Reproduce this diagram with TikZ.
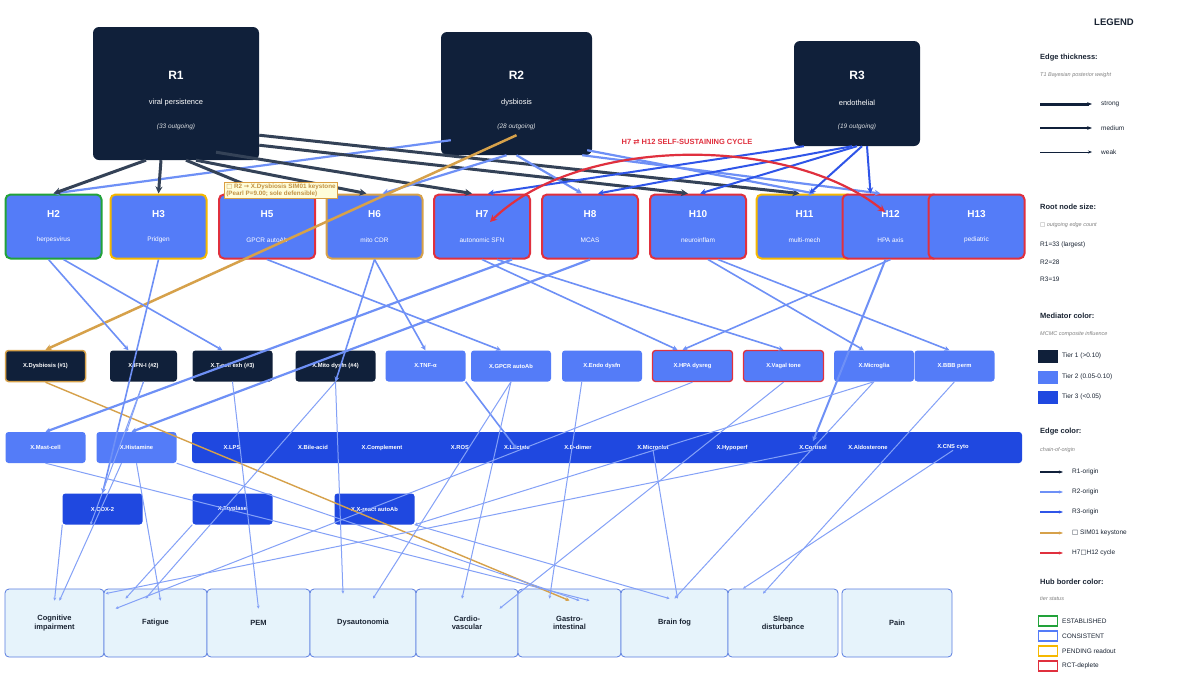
\documentclass[tikz,border=0pt]{standalone}
\usepackage{fontspec}
\setmainfont{Liberation Sans}
\newfontfamily\djv{DejaVu Sans}
\usetikzlibrary{arrows.meta}
\definecolor{navy}{HTML}{10203A}
\definecolor{hubb}{HTML}{547CF8}
\definecolor{tthree}{HTML}{1F48E0}
\definecolor{rtwo}{HTML}{6E90F6}
\definecolor{rthree}{HTML}{2F55E8}
\definecolor{gold}{HTML}{D6A14A}
\definecolor{cred}{HTML}{E0303E}
\definecolor{cgreen}{HTML}{22A23A}
\definecolor{cyel}{HTML}{F5B800}
\definecolor{symf}{HTML}{E6F3FB}
\definecolor{symb}{HTML}{5A7DE0}
\definecolor{txt}{HTML}{1A2433}
\begin{document}
\begin{tikzpicture}[x=1pt,y=-1pt,
 root/.style={fill=navy,rounded corners=6pt,text=white,align=center,inner sep=0pt},
 hub/.style={fill=hubb,rounded corners=5pt,line width=2pt,minimum width=96pt,minimum height=64pt,text=white,align=center,inner sep=0pt},
 med/.style={rounded corners=3pt,minimum width=80pt,minimum height=31pt,text=white,font=\bfseries\fontsize{5.8}{6}\selectfont,inner sep=0pt},
 tx/.style={text=white,font=\bfseries\fontsize{5.8}{6}\selectfont,inner sep=0pt},
 sym/.style={fill=symf,draw=symb,line width=0.8pt,rounded corners=4pt,minimum height=68pt,text=txt,align=center,font=\bfseries\fontsize{7.5}{8.5}\selectfont,inner sep=0pt},
 eR1/.style={navy!85,line width=3pt,-{Stealth[length=7pt,width=7pt]}},
 eR2/.style={rtwo,line width=2.2pt,-{Stealth[length=6pt,width=6pt]}},
 eR3/.style={rthree,line width=2pt,-{Stealth[length=6pt,width=6pt]}},
 hm/.style={rtwo,line width=1.6pt,-{Stealth[length=5pt,width=5pt]}},
 thin/.style={rtwo!85,line width=1pt,-{Stealth[length=3pt,width=3pt]}},
 lt/.style={text=txt,font=\fontsize{6.5}{7.5}\selectfont,anchor=west,inner sep=0pt},
 lh/.style={text=txt,font=\bfseries\fontsize{7.5}{8.5}\selectfont,anchor=west,inner sep=0pt},
 ls/.style={text=gray,font=\itshape\fontsize{5.5}{6.5}\selectfont,anchor=west,inner sep=0pt},
]
\useasboundingbox[fill=white] (0,0) rectangle (1200,675);
% roots
\node[root,minimum width=166pt,minimum height=133pt] (r1) at (176,93.5) {};
\node[root,minimum width=151pt,minimum height=123pt] (r2) at (516.5,93.5) {};
\node[root,minimum width=126pt,minimum height=105pt] (r3) at (857,93.5) {};
\foreach \n/\x/\a/\b in {r1/176/R1/viral persistence,r2/516.5/R2/dysbiosis,r3/857/R3/endothelial}{
 \node[text=white,font=\bfseries\fontsize{12}{14}\selectfont] (\n t) at (\x,75) {\a};
 \node[text=white,font=\fontsize{7.5}{8.5}\selectfont] (\n s) at (\x,103) {\b};}
\node[text=white!85!navy,font=\itshape\fontsize{6.5}{7}\selectfont] (r1c) at (176,127) {(33 outgoing)};
\node[text=white!85!navy,font=\itshape\fontsize{6.5}{7}\selectfont] (r2c) at (516.5,127) {(28 outgoing)};
\node[text=white!85!navy,font=\itshape\fontsize{6.5}{7}\selectfont] (r3c) at (857,127) {(19 outgoing)};
% hubs
\foreach \n/\x/\c/\s in {h2/53.5/cgreen/herpesvirus,h3/158.5/cyel/Pridgen,h5/267/cred/GPCR autoAb,h6/374.5/gold/mito CDR,h7/482/cred/autonomic SFN,h8/590/cred/MCAS,h10/698/cred/neuroinflam,h11/804.5/cyel/multi-mech,h12/890.5/cred/HPA axis,h13/976.5/cred/pediatric}{
 \node[hub,draw=\c] (\n) at (\x,226.5) {};
 \node[text=white,font=\fontsize{6.5}{7}\selectfont] (\n s) at (\x,240) {\s};}
\foreach \n/\x/\l in {h2/53.5/H2,h3/158.5/H3,h5/267/H5,h6/374.5/H6,h7/482/H7,h8/590/H8,h10/698/H10,h11/804.5/H11,h12/890.5/H12,h13/976.5/H13}
 \node[text=white,font=\bfseries\fontsize{10}{12}\selectfont] (\n t) at (\x,214) {\l};
% mediators row 1
\node[med,fill=navy,draw=gold,line width=1.5pt] (m1) at (45.5,366) {X.Dysbiosis (\#1)};
\node[med,fill=navy,minimum width=67pt] (m2) at (143.5,366) {X.IFN-I (\#2)};
\node[med,fill=navy] (m3) at (232.5,366) {X.T-cell exh (\#3)};
\node[med,fill=navy] (m4) at (335.5,366) {X.Mito dysfn (\#4)};
\node[med,fill=hubb] (m5) at (425.5,366) {X.TNF-α};
\node[med,fill=hubb] (m6) at (511,366) {X.GPCR autoAb};
\node[med,fill=hubb] (m7) at (602,366) {X.Endo dysfn};
\node[med,fill=hubb,draw=cred,line width=1.3pt] (m8) at (692.5,366) {X.HPA dysreg};
\node[med,fill=hubb,draw=cred,line width=1.3pt] (m9) at (783.5,366) {X.Vagal tone};
\node[med,fill=hubb] (m10) at (874,366) {X.Microglia};
\node[med,fill=hubb] (m11) at (954.5,366) {X.BBB perm};
% row 2
\node[med,fill=hubb] (n1) at (45.5,447.5) {X.Mast-cell};
\node[med,fill=hubb] (n2) at (136.5,447.5) {X.Histamine};
\node[fill=tthree,rounded corners=3pt,minimum width=830pt,minimum height=31pt,inner sep=0pt] (bar) at (607,447.5) {};
\foreach \n/\x/\t in {n3/232/X.LPS,n4/313/X.Bile-acid,n5/382/X.Complement,n6/460/X.ROS,n7/517/X.Lactate,n8/578/X.D-dimer,n9/653/X.Microclot,n10/732/X.Hypoperf,n11/813/X.Cortisol,n12/868/X.Aldosterone,n13/953/X.CNS cyto}
 \node[tx] (\n) at (\x,447.5) {\t};
% row 3
\node[med,fill=tthree] (k1) at (102.5,509) {X.COX-2};
\node[med,fill=tthree] (k2) at (232.5,509) {X.Tryplase};
\node[med,fill=tthree] (k3) at (374.5,509) {X.X-react autoAb};
% symptoms
\foreach \n/\a/\b/\t in {s1/5/104/Cognitive\\impairment,s2/104/207/Fatigue,s3/207/310/PEM,s4/310/416/Dysautonomia,s5/416/518/Cardio-\\vascular,s6/518/621/Gastro-\\intestinal,s7/621/728/Brain fog,s8/728/838/Sleep\\disturbance,s9/842/952/Pain}
 \node[sym,minimum width=\b pt-\a pt] (\n) at ({(\a+\b)/2},623) {\t};
% root edges
\draw[eR2] (r2.south west) ++(10,-15) -- (h2.north) ;
\draw[eR1] (r1.south) ++(-30,0) -- (h2.north);
\draw[eR1] (r1.south) ++(-15,0) -- (h3.north);
\draw[eR1] (r1.south) ++(20,0) -- ([xshift=-8pt]h6.north);
\draw[eR1] (r1.south) ++(40,-8) -- ([xshift=-10pt]h7.north);
\draw[eR1] (r1.south east) ++(0,-15) -- ([xshift=-10pt]h10.north);
\draw[eR1] (r1.south east) ++(0,-25) -- ([xshift=-5pt]h11.north);
\draw[eR1] (r1.south) ++(10,0) -- (h5.north);
\draw[eR2] (r2.south) ++(-10,0) -- ([xshift=8pt]h6.north);
\draw[eR2] (r2.south) -- ([xshift=-8pt]h8.north);
\draw[eR2] (r2.south east) ++(-10,0) -- ([xshift=-10pt]h12.north);
\draw[eR2] (r2.south east) ++(-5,-5) -- ([xshift=10pt]h11.north);
\draw[eR3] (r3.south west) ++(10,0) -- ([xshift=6pt]h7.north);
\draw[eR3] (r3.south) ++(-5,0) -- ([xshift=8pt]h8.north);
\draw[eR3] (r3.south) -- ([xshift=2pt]h10.north);
\draw[eR3] (r3.south) ++(5,0) -- ([xshift=5pt]h11.north);
\draw[eR3] (r3.south) ++(10,0) -- ([xshift=-20pt]h12.north);
% gold keystone
\draw[gold,line width=2.5pt,-{Stealth[length=6pt,width=6pt]}] (r2.south) ++(0,-20) -- (m1.north);
\draw[gold,line width=1.4pt,-{Stealth[length=4pt,width=4pt]}] (m1.south) -- ([yshift=-12pt]s6.north);
\node[fill=yellow!15,draw=gold!90!orange,line width=0.8pt,text=gold!90!black,align=left,font=\bfseries\fontsize{6.3}{6.8}\selectfont,inner sep=1.5pt] (kn) at (281,190.5) {{\djv□} R2 {\djv→} X.Dysbiosis SIM01 keystone\\(Pearl P=9.00; sole defensible)};
% red cycle
\coordinate (c7) at (490,222);
\coordinate (c12) at (885,212);
\draw[cred,line width=2.2pt,{Stealth[length=7pt,width=7pt]}-{Stealth[length=7pt,width=7pt]}] (c7) .. controls (580,135) and (790,135) .. (c12);
\node[text=cred,font=\bfseries\fontsize{7.5}{8.5}\selectfont] (cyc) at (687,142) {H7 {\djv⇄} H12 SELF-SUSTAINING CYCLE};
% hub->mediator
\draw[hm] ([xshift=-5pt]h2.south) -- ([xshift=-15pt]m2.north);
\draw[hm] ([xshift=10pt]h2.south) -- ([xshift=-10pt]m3.north);
\draw[hm] (h3.south) -- (k1.north);
\draw[hm] (h5.south) -- ([xshift=-10pt]m6.north);
\draw[hm] (h6.south) -- (m4.south);
\draw[hm] (h6.south) -- (m5.north);
\draw[hm] (h7.south) -- ([xshift=-15pt]m8.north);
\draw[hm] ([xshift=15pt]h7.south) -- (m9.north);
\draw[hm,line width=2.2pt] ([xshift=30pt]h7.south) -- (n1.north);
\draw[hm,line width=2.2pt] (h8.south) -- ([xshift=-5pt]n2.north);
\draw[hm] ([xshift=10pt]h10.south) -- ([xshift=-10pt]m10.north);
\draw[hm] ([xshift=20pt]h10.south) -- ([xshift=-5pt]m11.north);
\draw[hm] (h12.south) -- ([xshift=-10pt]m8.north);
\draw[hm,line width=2pt] ([xshift=-5pt]h12.south) -- ([yshift=4pt]n11.north);
\draw[hm] (m5.south east) -- ([yshift=-4pt]n7.north);
% mediator -> symptom/lower
\draw[thin] (m2.south) -- ([xshift=-10pt]n2.north);
\draw[thin] (m2.south) -- ([xshift=-12pt]k1.south);
\draw[thin] (m3.south) -- ([yshift=-20pt]s3.north);
\draw[thin] (m4.south) -- ([xshift=-10pt,yshift=-10pt]s2.north);
\draw[thin] (m4.south) -- ([xshift=-20pt,yshift=-5pt]s4.north);
\draw[thin] (m6.south) -- ([xshift=10pt,yshift=-10pt]s4.north);
\draw[thin] (m6.south) -- ([xshift=-5pt,yshift=-10pt]s5.north);
\draw[thin] (m7.south west) ++(20,0) -- ([xshift=-20pt,yshift=-10pt]s6.north);
\draw[thin] (m8.south) -- ([xshift=-40pt,yshift=-20pt]s2.north);
\draw[thin] (m9.south) -- ([xshift=-70pt,yshift=-20pt]s6.north);
\draw[thin] (m10.south) -- ([yshift=-10pt]s7.north);
\draw[thin] (m10.south) -- (k3.south east);
\draw[thin] (m11.south) -- ([xshift=-20pt,yshift=-5pt]s8.north);
\draw[thin] (n1.south) -- ([xshift=20pt,yshift=-12pt]s6.north);
\draw[thin] ([xshift=-15pt]n2.south) -- ([xshift=5pt,yshift=-12pt]s1.north);
\draw[thin] (n2.south) -- ([xshift=5pt,yshift=-12pt]s2.north);
\draw[thin] (n2.south east) -- ([xshift=10pt,yshift=-12pt]s6.north);
\draw[thin] (n9.south) -- ([xshift=3pt,yshift=-10pt]s7.north);
\draw[thin] (n13.south) -- ([xshift=-40pt]s8.north);
\draw[thin] (n11.south) -- ([xshift=-50pt,yshift=-5pt]s2.north);
\draw[thin] (k2.south west) -- ([xshift=-30pt,yshift=-10pt]s2.north);
\draw[thin] (k3.south east) -- ([xshift=-5pt,yshift=-10pt]s7.north);
\draw[thin] (k1.south west) -- ([yshift=-12pt]s1.north);
% legend
\node[text=txt,font=\bfseries\fontsize{9.5}{10}\selectfont] (lg) at (1114,22) {LEGEND};
\node[lh] (l1) at (1040,58) {Edge thickness:};
\node[ls] (l1s) at (1040,75) {T1 Bayesian posterior weight};
\coordinate (e1a) at (1040,104); \coordinate (e1b) at (1092,104);
\draw[navy,line width=3pt,-{Stealth[length=5pt]}] (e1a) -- (e1b);
\node[lt] (e1) at (1101,104) {strong};
\coordinate (e2a) at (1040,128); \coordinate (e2b) at (1092,128);
\draw[navy,line width=1.6pt,-{Stealth[length=5pt]}] (e2a) -- (e2b);
\node[lt] (e2) at (1101,128) {medium};
\coordinate (e3a) at (1040,152); \coordinate (e3b) at (1092,152);
\draw[navy,line width=0.6pt,-{Stealth[length=4pt]}] (e3a) -- (e3b);
\node[lt] (e3) at (1101,152) {weak};
\node[lh] (l2) at (1040,207) {Root node size:};
\node[ls] (l2s) at (1040,225) {{\djv□} outgoing edge count};
\node[lt] (l2a) at (1040,245) {R1=33 (largest)};
\node[lt] (l2b) at (1040,262) {R2=28};
\node[lt] (l2c) at (1040,279) {R3=19};
\node[lh] (l3) at (1040,316) {Mediator color:};
\node[ls] (l3s) at (1040,334) {MCMC composite influence};
\foreach \y/\c/\t in {356/navy/Tier 1 (>0.10),377/hubb/Tier 2 (0.05-0.10),397/tthree/Tier 3 (<0.05)}{
 \node[fill=\c,minimum width=20pt,minimum height=13pt,inner sep=0pt] (sw\y) at (1048,\y) {};
 \node[lt] (st\y) at (1062,\y) {\t};}
\node[lh] (l4) at (1040,432) {Edge color:};
\node[ls] (l4s) at (1040,450) {chain-of-origin};
\foreach \y/\c/\t in {472/navy/R1-origin,492/rtwo/R2-origin,512/rthree/R3-origin,533/gold/{{\djv□} SIM01 keystone},553/cred/{H7{\djv□}H12 cycle}}{
 \coordinate (ca\y) at (1040,\y); \coordinate (cb\y) at (1063,\y);
 \draw[\c,line width=1.3pt,-{Stealth[length=4pt]}] (ca\y) -- (cb\y);
 \node[lt] (ct\y) at (1072,\y) {\t};}
\node[lh] (l5) at (1040,582) {Hub border color:};
\node[ls] (l5s) at (1040,599) {tier status};
\foreach \y/\c/\t in {621/cgreen/ESTABLISHED,636/hubb/CONSISTENT,651/cyel/PENDING readout,666/cred/RCT-deplete}{
 \node[draw=\c,line width=1.5pt,minimum width=19pt,minimum height=10pt,inner sep=0pt] (hb\y) at (1048,\y) {};
 \node[lt] (ht\y) at (1062,\y) {\t};}
\end{tikzpicture}
\end{document}
